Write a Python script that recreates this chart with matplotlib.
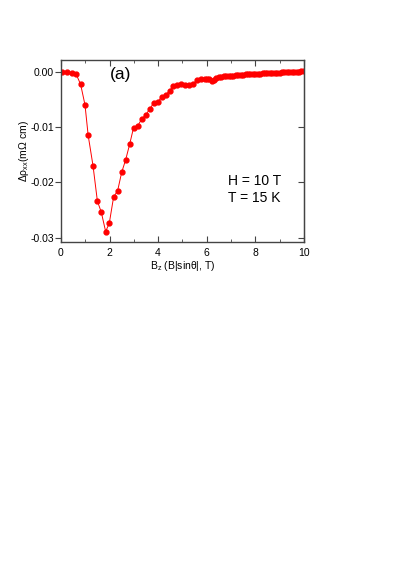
import matplotlib
matplotlib.use('Agg')
import matplotlib.pyplot as plt
from matplotlib.ticker import MultipleLocator

plt.rcParams['font.family'] = ['Liberation Sans', 'DejaVu Sans']
plt.rcParams['mathtext.fontset'] = 'custom'
plt.rcParams['mathtext.rm'] = 'Liberation Sans'
plt.rcParams['mathtext.it'] = 'Liberation Sans'

# B_z in tesla
bz = [0.03, 0.23, 0.44, 0.63, 0.81, 0.99, 1.12, 1.32, 1.50, 1.66, 1.84, 1.99,
      2.17, 2.33, 2.50, 2.66, 2.83, 2.99, 3.16, 3.32, 3.49, 3.65, 3.81, 3.98,
      4.14, 4.31, 4.47, 4.61, 4.77, 4.94, 5.10, 5.27, 5.43, 5.60, 5.76, 5.93,
      6.0, 6.1, 6.2, 6.3, 6.4, 6.5, 6.6, 6.7, 6.8, 6.9, 7.0, 7.1, 7.2, 7.3,
      7.4, 7.5, 7.6, 7.7, 7.8, 7.9, 8.0, 8.1, 8.2, 8.3, 8.4, 8.5, 8.6, 8.7,
      8.8, 8.9, 9.0, 9.1, 9.2, 9.3, 9.4, 9.5, 9.6, 9.7, 9.8, 9.9, 10.0]
# delta rho_xx in mOhm cm
drho = [0.0000, -0.0001, -0.0002, -0.0005, -0.0023, -0.0060, -0.0115, -0.0170,
        -0.0234, -0.0254, -0.0289, -0.0274, -0.0226, -0.0216, -0.0182, -0.0160,
        -0.0131, -0.0101, -0.0098, -0.0086, -0.0078, -0.0068, -0.0057, -0.0055,
        -0.0046, -0.0042, -0.0035, -0.0026, -0.0025, -0.0023, -0.0025, -0.0025,
        -0.0022, -0.0016, -0.0014, -0.0013,
        -0.0013, -0.0014, -0.0017, -0.0015, -0.0012, -0.0010, -0.0009, -0.0008,
        -0.0008, -0.0007, -0.0007, -0.0007, -0.0006, -0.0006, -0.0006, -0.0006,
        -0.0005, -0.0005, -0.0005, -0.0005, -0.0004, -0.0004, -0.0004, -0.0003,
        -0.0003, -0.0003, -0.0003, -0.0002, -0.0002, -0.0002, -0.0002, -0.0001,
        -0.0001, -0.0001, -0.0001, 0.0000, 0.0000, 0.0000, 0.0000, 0.0001, 0.0001]

fig = plt.figure(figsize=(4.09, 5.85), dpi=100)
ax = fig.add_axes([0.149, 0.5863, 0.594, 0.3111])

ax.plot(bz, drho, color='red', lw=0.7, marker='o', ms=3.5, mec='red', mfc='red')

ax.set_xlim(0, 10)
ax.set_ylim(-0.0308, 0.0021)
ax.xaxis.set_major_locator(MultipleLocator(2))
ax.xaxis.set_minor_locator(MultipleLocator(1))
ax.yaxis.set_major_locator(MultipleLocator(0.01))
ax.yaxis.set_major_formatter(matplotlib.ticker.FormatStrFormatter('%.2f'))

for s in ax.spines.values():
    s.set_color('#444444')
    s.set_linewidth(1.0)
ax.tick_params(axis='x', which='both', direction='in', top=True, labelsize=7.5,
               color='#444444', pad=4)
ax.tick_params(axis='x', which='major', length=4)
ax.tick_params(axis='x', which='minor', length=2.5)
ax.tick_params(axis='y', which='both', direction='out', labelsize=7.5,
               color='#444444', length=4, pad=1)
ax.tick_params(axis='y', which='both', right=False)
ax_r = ax.secondary_yaxis('right')
ax_r.yaxis.set_major_locator(MultipleLocator(0.01))
ax_r.tick_params(direction='in', length=4, color='#444444', labelright=False)
ax_r.spines['right'].set_color('#444444')

ax.set_xlabel(r'B$_\mathrm{z}$ (B|sin$\theta$|, T)', fontsize=7.5, labelpad=1)
ax.set_ylabel(r'$\Delta\rho$$_\mathrm{xx}$(m$\Omega$ cm)', fontsize=7.5)
ax.yaxis.set_label_coords(-0.125, 0.5)

ax.text(0.247, 0.918, '(a)', transform=ax.transAxes, fontsize=12.5,
        ha='center', va='center')
ax.text(0.687, 0.335, 'H = 10 T', transform=ax.transAxes, fontsize=10,
        ha='left', va='center')
ax.text(0.687, 0.242, 'T = 15 K', transform=ax.transAxes, fontsize=10,
        ha='left', va='center')

plt.savefig('out.png', dpi=100)
plt.close()
